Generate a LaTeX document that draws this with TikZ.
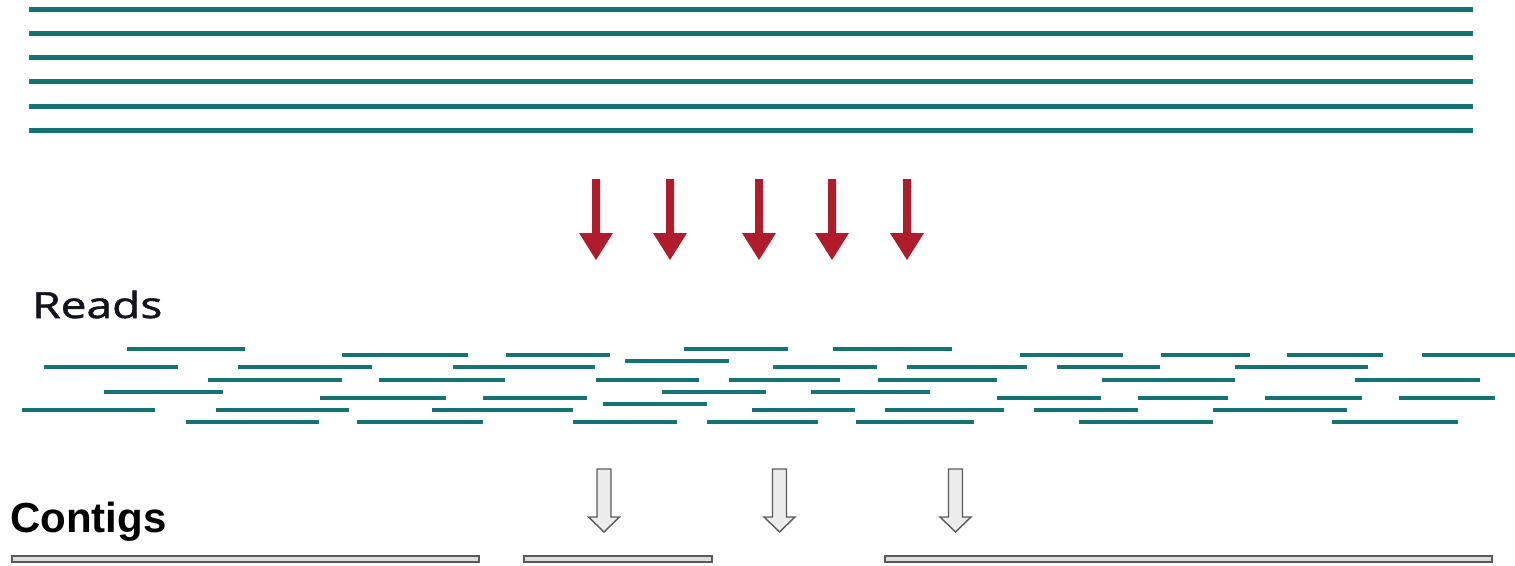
\documentclass[tikz,border=0pt]{standalone}
\usepackage{fontspec}
\setmainfont{Liberation Sans}
\font\readsfnt="Open Sans:extend=1.28;embolden=1.6" at 36pt
\definecolor{teal1}{RGB}{20,115,115}
\definecolor{redarrow}{RGB}{176,28,44}
\definecolor{grayfill}{RGB}{236,236,236}
\definecolor{grayline}{RGB}{90,90,90}
\definecolor{contigfill}{RGB}{222,222,222}
\definecolor{textdark}{RGB}{20,20,30}
\tikzset{
  genome/.style={draw=teal1, line width=5pt},
  readbar/.style={draw=teal1, line width=4.6pt},
  redarr/.style={fill=redarrow, draw=none},
  grayarr/.style={fill=grayfill, draw=grayline, line width=1.4pt, line join=miter},
  contigbar/.style={fill=contigfill, draw=grayline, line width=1.4pt},
  lbl/.style={inner sep=0pt, anchor=base west}
}
\begin{document}
\begin{tikzpicture}[x=1pt,y=-1pt]
\useasboundingbox (0,0) rectangle (1515,565);
% genome lines
\foreach \yy in {9,33,57,81,106,130}
  \draw[genome] (29,\yy) -- (1473,\yy);
% red arrows
\foreach \cx in {596,670,759,832,907}
  \path[redarr] (\cx-4,179) -- (\cx+4,179) -- (\cx+4,233) -- (\cx+17,233) -- (\cx,260) -- (\cx-17,233) -- (\cx-4,233) -- cycle;
% label Reads
\node[lbl, text=textdark, font=\readsfnt] (reads) at (32,318) {Reads};
% reads
\foreach \yy/\a/\b in {
  349/127/245, 349/684/788, 349/833/952,
  355/342/468, 355/506/610, 355/1020/1123, 355/1161/1250, 355/1287/1383, 355/1422/1515,
  361/625/729,
  367/44/178, 367/238/372, 367/453/595, 367/773/877, 367/907/1027, 367/1057/1160, 367/1235/1368,
  380/208/342, 380/379/505, 380/596/699, 380/729/840, 380/878/997, 380/1102/1235, 380/1355/1480,
  392/104/223, 392/662/766, 392/811/930,
  398/320/446, 398/483/587, 398/997/1101, 398/1138/1228, 398/1265/1362, 398/1399/1495,
  404/603/707,
  410/22/155, 410/216/349, 410/432/573, 410/752/855, 410/885/1004, 410/1034/1138, 410/1213/1347,
  422/186/319, 422/357/483, 422/573/677, 422/707/818, 422/856/974, 422/1079/1213, 422/1332/1458}
  \draw[readbar] (\a,\yy) -- (\b,\yy);
% gray arrows
\foreach \cx in {604,779.5,955.5}
  \draw[grayarr] (\cx-7,469) -- (\cx+7,469) -- (\cx+7,517) -- (\cx+15.5,517) -- (\cx,532) -- (\cx-15.5,517) -- (\cx-7,517) -- cycle;
% label Contigs
\node[lbl, font=\bfseries\fontsize{42}{48}\selectfont] (contigs) at (10,532) {Contigs};
% contig bars
\draw[contigbar] (12,556) rectangle (479,562);
\draw[contigbar] (524,556) rectangle (712,562);
\draw[contigbar] (885,556) rectangle (1492,562);
\end{tikzpicture}
\end{document}
